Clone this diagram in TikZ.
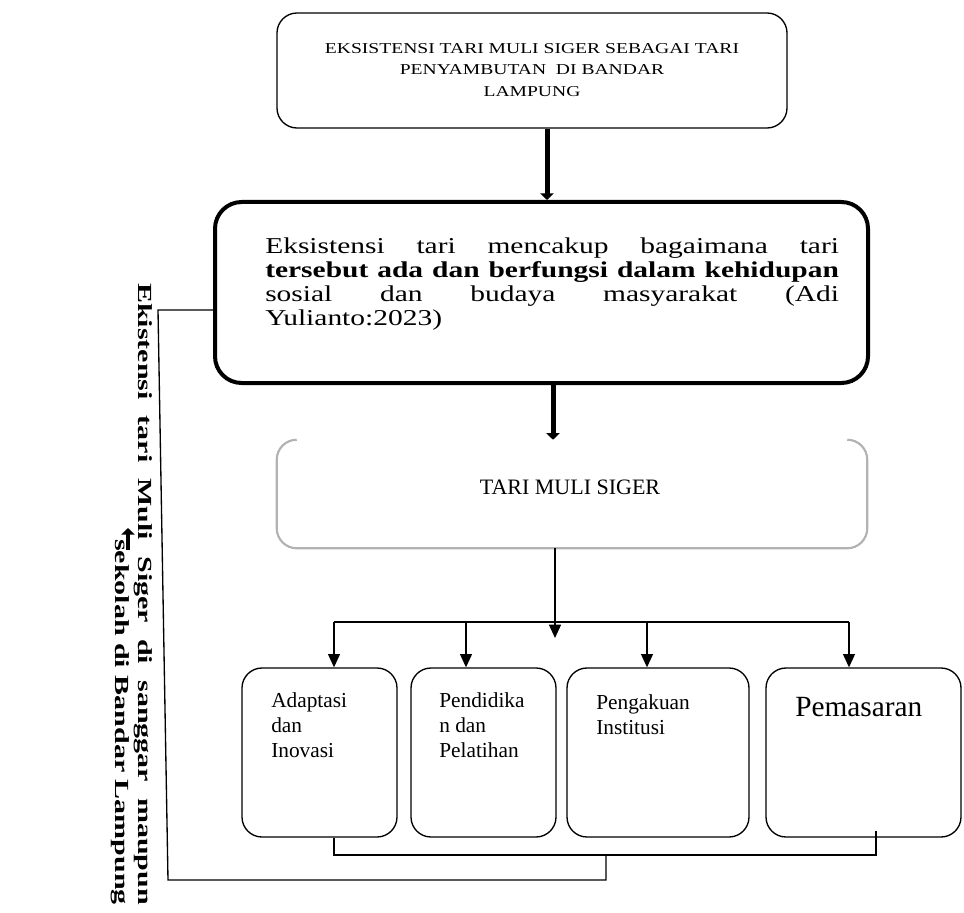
\documentclass[tikz,border=0pt]{standalone}
\usepackage{fontspec}
\setmainfont{Liberation Serif}
\usepackage{graphicx}
\usetikzlibrary{arrows.meta}

\begin{document}
\begin{tikzpicture}[x=0.75pt, y=-0.75pt,
	box/.style={draw, rounded corners=15pt, line width=1pt, inner sep=0pt},
	thickarr/.style={line width=3.75pt, -{Triangle[width=10pt,length=5pt]}},
	thinarr/.style={line width=1pt, -{Triangle[width=9pt,length=10pt]}},
	wire/.style={line width=1pt},
	boxtext/.style={anchor=north west, inner sep=0pt, align=left, font=\fontsize{16}{19}\selectfont}]
	\useasboundingbox (0,0) rectangle (964,913);

	\draw (532, 70.5) 	node[box, minimum width=382.5pt, minimum height=86.25pt] 	(judul) 	{\scalebox{1.3}[1]{\fontsize{11.3}{16}\selectfont\begin{tabular}{@{}c@{}}EKSISTENSI TARI MULI SIGER SEBAGAI TARI\\PENYAMBUTAN \ DI BANDAR\\LAMPUNG\end{tabular}}};
	\draw (541.5, 292.5) 	node[box, line width=3pt, rounded corners=20pt, minimum width=489.75pt, minimum height=135.75pt] 	(definisi) 	{};
	\draw (265, 284) 	node[anchor=west, inner sep=0pt] 	(definisi_teks) 	{\scalebox{1.3}[1]{\parbox{331pt}{\fontsize{17}{18}\selectfont\hyphenpenalty=10000 Eksistensi tari mencakup bagaimana tari\linebreak \textbf{tersebut ada dan berfungsi dalam kehidupan}\linebreak sosial dan budaya masyarakat (Adi\linebreak Yulianto:2023)}}};
	\draw (572, 494) 	node[inner sep=0pt, minimum width=442.5pt, minimum height=81pt] 	(tari) 	{};
	\draw (570, 487) 	node[inner sep=0pt, font=\fontsize{16.5}{18}\selectfont] 	(tari_teks) 	{TARI MULI SIGER};
	\draw (319.5, 752.5) 	node[box, minimum width=116.25pt, minimum height=126.75pt] 	(adaptasi) 	{};
	\draw (483.5, 752.5) 	node[box, minimum width=108.75pt, minimum height=126.75pt] 	(pendidikan) 	{};
	\draw (658, 752.5) 	node[box, minimum width=136.5pt, minimum height=126.75pt] 	(pengakuan) 	{};
	\draw (863.5, 752.5) 	node[box, minimum width=146.25pt, minimum height=126.75pt] 	(pemasaran) 	{};
	\draw (271, 692) 	node[boxtext] 	(adaptasi_teks) 	{Adaptasi\\dan\\Inovasi};
	\draw (439, 692) 	node[boxtext] 	(pendidikan_teks) 	{Pendidika\\n dan\\Pelatihan};
	\draw (596, 694) 	node[boxtext] 	(pengakuan_teks) 	{Pengakuan\\Institusi};
	\draw (795, 697) 	node[boxtext, font=\fontsize{22}{26}\selectfont] 	(pemasaran_teks) 	{Pemasaran};
	\draw (131.5, 594) 	node[rotate=-90, inner sep=0pt] 	(kesimpulan) 	{\scalebox{1.5}[1]{\parbox{311pt}{\raggedleft\fontsize{15}{17.25}\selectfont\bfseries\makebox[\linewidth][s]{Ekistensi tari Muli Siger di sanggar maupun}\\ sekolah di Bandar Lampung}}};

	\draw[gray!60, line width=1.6pt, rounded corners=15pt] ([shift={(20,0)}]tari.north west) -- (tari.north west) -- (tari.south west) -- (tari.south east) -- (tari.north east) -- ([shift={(-20,0)}]tari.north east);

	\coordinate (panah1) at (547, 0);
	\coordinate (panah2) at (553, 0);
	\coordinate (hub) at (555, 622);
	\coordinate (hub_tip) at (555, 638);
	\coordinate (drop1) at (334, 622);
	\coordinate (drop2) at (466, 622);
	\coordinate (drop3) at (647, 622);
	\coordinate (drop4) at (849, 622);
	\coordinate (bawah1) at (334, 855);
	\coordinate (bawah4) at (876, 855);
	\coordinate (balik1) at (606, 855);
	\coordinate (balik2) at (606, 880);
	\coordinate (balik3) at (168, 880);
	\coordinate (balik4) at (158, 310);
	\coordinate (atas_a) at (128, 550);
	\coordinate (atas_b) at (128, 528);

	\draw[thickarr] (panah1 |- judul.south) -- (panah1 |- definisi.north);
	\draw[thickarr] (panah2 |- definisi.south) -- (panah2 |- tari.north);
	\draw[thinarr] (hub |- tari.south) -- (hub_tip);
	\draw[wire] (drop1) -- (drop4);
	\draw[thinarr] (drop1) -- (drop1 |- adaptasi.north);
	\draw[thinarr] (drop2) -- (drop2 |- pendidikan.north);
	\draw[thinarr] (drop3) -- (drop3 |- pengakuan.north);
	\draw[thinarr] (drop4) -- (drop4 |- pemasaran.north);
	\draw[wire] (bawah1 |- adaptasi.south) -- (bawah1) -- (bawah4) -- ([yshift=5pt]bawah4 |- pemasaran.south);
	\draw[wire] (balik1) -- (balik2) -- (balik3) -- (balik4) -- (balik4 -| definisi.west);
	\draw[thickarr, line width=3pt] (atas_a) -- (atas_b);
\end{tikzpicture}
\end{document}
